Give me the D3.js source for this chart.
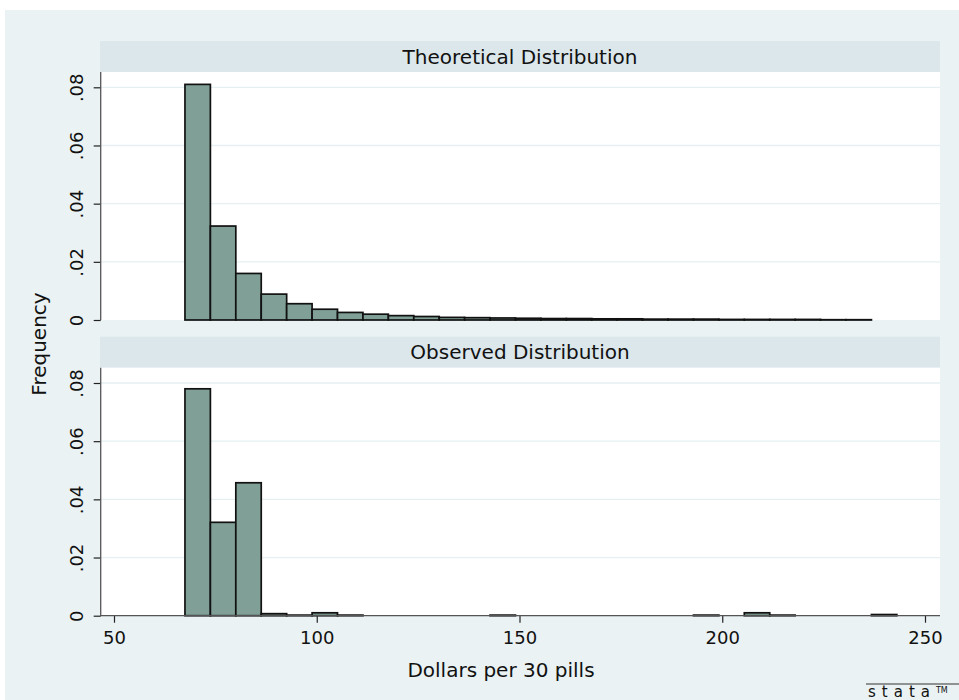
<!DOCTYPE html>
<html>
<head>
<meta charset="utf-8">
<script src="https://cdn.jsdelivr.net/npm/d3@7"></script>
<style>
  html, body { margin: 0; padding: 0; background: #fff; }
  svg text { font-family: "DejaVu Sans", sans-serif; fill: #111; }
</style>
</head>
<body>
<div id="okvir"></div>
<script>
// histogram bins: start and width in dollars
const binStart = 67.5;
const binWidth = 6.27;

const panelTitles = ["Theoretical Distribution", "Observed Distribution"];

const theoretical = [0.0810, 0.0323, 0.0160, 0.0089, 0.0056, 0.0037, 0.0026, 0.0020,
  0.0015, 0.0012, 0.0009, 0.0008, 0.0007, 0.0006, 0.0005, 0.0005, 0.0004, 0.0004,
  0.0003, 0.0003, 0.0003, 0.0002, 0.0002, 0.0002, 0.0002, 0.0001, 0.0001];

const observed = [0.0780, 0.0321, 0.0457, 0.0007, 0.0002, 0.0010, 0.0002, 0, 0, 0, 0, 0,
  0.0002, 0, 0, 0, 0, 0, 0, 0, 0.0002, 0, 0.0010, 0.0002, 0, 0, 0, 0.0004];

const xTicks = [50, 100, 150, 200, 250];
const yTicks = [0, 0.02, 0.04, 0.06, 0.08];
const yTickLabels = ["0", ".02", ".04", ".06", ".08"];

function crtaj() {
  const sirina = 959, visina = 700;
  const plotLeft = 100, plotRight = 940;
  const stripH = 31, plotH = 248;
  const panelTops = [41, 336.7];

  const svg = d3.select("#okvir").append("svg")
    .attr("width", sirina).attr("height", visina);

  // outer background
  svg.append("rect").attr("x", 5).attr("y", 10)
    .attr("width", sirina - 5).attr("height", visina - 10)
    .attr("fill", "#EAF2F3");

  const x = d3.scaleLinear().domain([50, 250]).range([114, 925]);

  const paneli = [theoretical, observed];

  paneli.forEach((vals, i) => {
    const top = panelTops[i];
    const plotTop = top + stripH;
    const plotBottom = plotTop + plotH;
    const y = d3.scaleLinear().domain([0, 0.08]).range([plotBottom, plotBottom - 232.7]);

    // header strip
    svg.append("rect").attr("x", plotLeft).attr("y", top)
      .attr("width", plotRight - plotLeft).attr("height", stripH)
      .attr("fill", "#DCE7EB");
    svg.append("text").attr("x", (plotLeft + plotRight) / 2)
      .attr("y", top + stripH / 2).attr("dy", "0.36em")
      .attr("text-anchor", "middle").attr("font-size", 20)
      .text(panelTitles[i]);

    // plot region
    svg.append("rect").attr("x", plotLeft).attr("y", plotTop)
      .attr("width", plotRight - plotLeft).attr("height", plotH)
      .attr("fill", "#fff");

    // grid
    svg.append("g").selectAll("line").data(yTicks.slice(1)).join("line")
      .attr("x1", plotLeft).attr("x2", plotRight)
      .attr("y1", d => y(d)).attr("y2", d => y(d))
      .attr("stroke", "#E6EFF1").attr("stroke-width", 1.3);

    // bars
    svg.append("g").selectAll("rect").data(vals).join("rect")
      .attr("x", (d, k) => x(binStart + k * binWidth))
      .attr("width", (d, k) => x(binStart + (k + 1) * binWidth) - x(binStart + k * binWidth))
      .attr("y", d => y(d))
      .attr("height", d => y(0) - y(d))
      .attr("fill", "#80A097")
      .attr("stroke", d => d > 0 ? "#111" : "none")
      .attr("stroke-width", 1.7);

    // y axis
    const yAxis = d3.axisLeft(y).tickValues(yTicks)
      .tickFormat((d, k) => yTickLabels[k]).tickSize(7).tickPadding(0);
    const gy = svg.append("g").attr("transform", `translate(${plotLeft + 0.7},0)`).call(yAxis);
    gy.select(".domain").remove();
    gy.append("line").attr("x1", 0).attr("x2", 0)
      .attr("y1", plotTop).attr("y2", plotBottom)
      .attr("stroke", "#555").attr("stroke-width", 1.3);
    gy.selectAll(".tick line").attr("stroke", "#222").attr("stroke-width", 1.2);
    gy.selectAll(".tick text")
      .attr("font-size", 18).attr("fill", "#111")
      .attr("x", null).attr("dy", null)
      .attr("text-anchor", "middle")
      .attr("transform", "translate(-24,0) rotate(-90)")
      .attr("dy", "0.36em");

    if (i === 1) {
      const xAxis = d3.axisBottom(x).tickValues(xTicks).tickSize(7).tickPadding(9);
      const gx = svg.append("g").attr("transform", `translate(0,${plotBottom})`).call(xAxis);
      gx.select(".domain").remove();
      gx.append("line").attr("x1", plotLeft).attr("x2", plotRight)
        .attr("stroke", "#555").attr("stroke-width", 1.3);
      gx.selectAll(".tick line").attr("stroke", "#222").attr("stroke-width", 1.2);
      gx.selectAll(".tick text").attr("font-size", 18).attr("fill", "#111");
    }
  });

  // axis titles
  svg.append("text").attr("transform", "translate(46,344) rotate(-90)")
    .attr("text-anchor", "middle").attr("font-size", 20).text("Frequency");
  svg.append("text").attr("x", 501).attr("y", 677)
    .attr("text-anchor", "middle").attr("font-size", 20).text("Dollars per 30 pills");

  // stata logo
  svg.append("line").attr("x1", 866).attr("x2", 959).attr("y1", 684).attr("y2", 684)
    .attr("stroke", "#333").attr("stroke-width", 1);
  const logo = svg.append("text").attr("x", 868).attr("y", 697)
    .attr("font-size", 15).attr("letter-spacing", 6).attr("fill", "#333");
  logo.append("tspan").text("stata");
  logo.append("tspan").attr("font-size", 8).attr("dy", -4).attr("letter-spacing", 0).text("TM");
}

crtaj();
</script>
</body>
</html>
